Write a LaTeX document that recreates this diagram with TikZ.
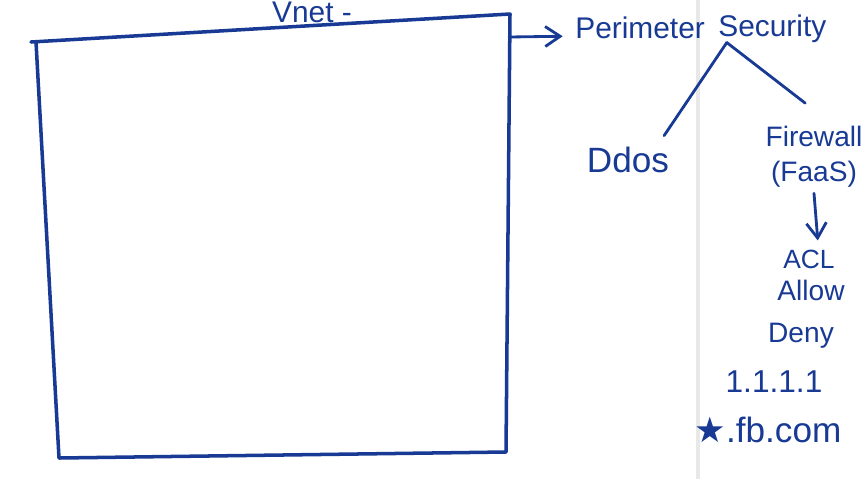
\documentclass[tikz,border=0pt]{standalone}
\usepackage{fontspec}
\setmainfont{Liberation Sans}
\newfontfamily\starfont{DejaVu Sans}
\usetikzlibrary{arrows.meta}

\begin{document}
\begin{tikzpicture}
    [x=0.02cm,y=-0.02cm,line cap=round,line join=round,
    % Styles
    box line/.style={draw=inkcolor, line width=2pt},
    ink line/.style={draw=inkcolor, line width=1.6pt},
    ink arrow/.style={ink line, -{Straight Barb[length=3mm,width=4mm,line width=1.6pt]}},
    hand/.style={text=inkcolor, inner sep=0pt, anchor=base}]

    % Colors
    \definecolor{inkcolor}{RGB}{24,58,148}
    \colorlet{pagecolor}{black!9}

    % Frame
    \clip (0,0) rectangle (866,478);
    \fill[white] (0,0) rectangle (866,478);
    \draw[pagecolor, line width=2pt] (698,0) -- (698,478);

    % Coordinates
    \coordinate (TL) at (31,42);
    \coordinate (TR) at (510,14);
    \coordinate (BR) at (506,452);
    \coordinate (BL) at (59,458);
    \coordinate (boxR) at (509,37);

    % Graphic
    \draw[box line] (TL) -- (TR) -- (BR) -- (BL) -- (36,42);

    \node[hand, font=\fontsize{17}{20}\selectfont] (vnet) at (312,22) {Vnet -};

    \node[hand, anchor=base west, font=\fontsize{17}{20}\selectfont] (perim) at (575,38) {Perimeter};
    \node[hand, anchor=base west, font=\fontsize{17}{20}\selectfont] (sec) at (718,36) {Security};
    \coordinate (apex) at ([xshift=5pt]sec.south west);

    \node[hand, font=\fontsize{20}{22}\selectfont] (ddos) at (628,172) {Ddos};
    \node[hand, align=center, anchor=center, font=\fontsize{16}{20}\selectfont] (fw) at (814,157) {Firewall\\(FaaS)};

    \node[hand, font=\fontsize{15}{18}\selectfont] (acl) at (809,268) {ACL};
    \node[hand, font=\fontsize{16}{18}\selectfont] (allow) at (811,300) {Allow};
    \node[hand, font=\fontsize{16}{18}\selectfont] (deny) at (801,342) {Deny};
    \node[hand, font=\fontsize{18}{20}\selectfont] (ip) at (774,392) {1.1.1.1};
    \node[hand, font=\fontsize{20}{22}\selectfont] (fb) at (768,442) {{\starfont ★}.fb.com};

    \draw[ink arrow] (boxR) -- ([xshift=-7pt, yshift=1pt]perim.base west);
    \draw[ink line] (apex) -- ([xshift=-3pt, yshift=6pt]ddos.north east);
    \draw[ink line] (apex) -- ([xshift=-5pt, yshift=13pt]fw.north);
    \draw[ink arrow] ([xshift=0pt, yshift=-3pt]fw.south) -- ([xshift=5pt, yshift=5pt]acl.north);

\end{tikzpicture}
\end{document}
